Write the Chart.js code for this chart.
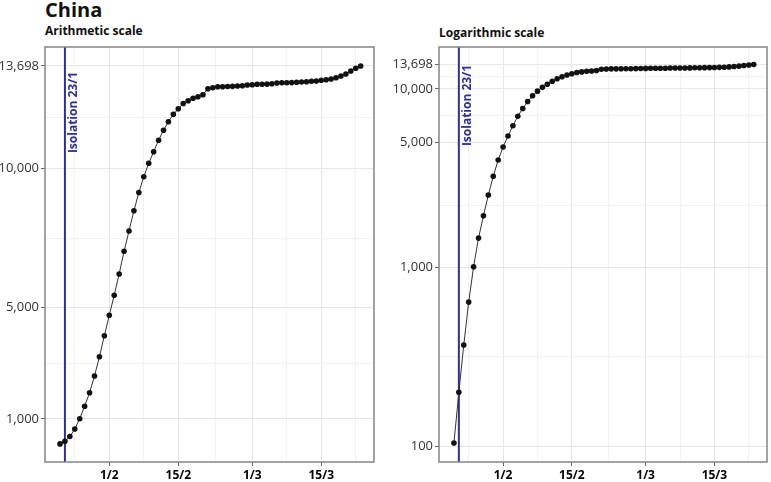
<!DOCTYPE html>
<html>
<head>
<meta charset="utf-8">
<script src="https://cdn.jsdelivr.net/npm/chart.js@4.4.1/dist/chart.umd.min.js"></script>
<style>
  body { margin: 0; background: #fff; font-family: "Open Sans", sans-serif; }
  #wrap { position: relative; width: 771px; height: 482px; overflow: hidden; }
  canvas { position: absolute; top: 0; }
  .title { position: absolute; left: 45px; top: 0; font-size: 20px; line-height: 20px; font-weight: bold; color: #111; }
  .sub { position: absolute; font-size: 12px; line-height: 12px; font-weight: bold; color: #111; }
</style>
</head>
<body>
<div id="wrap">
  <div class="title">China</div>
  <div class="sub" style="left:45px;top:25px">Arithmetic scale</div>
  <div class="sub" style="left:439px;top:27px">Logarithmic scale</div>
  <canvas id="arith" width="385" height="482" style="left:0"></canvas>
  <canvas id="log" width="386" height="482" style="left:385px"></canvas>
</div>
<script>
// cumulative cases, one value a day from 22/1 (day 0) to 23/3 (day 61)
const cases = [
  104, 200, 368, 640, 1010, 1460, 1946, 2547, 3241, 3996,
  4730, 5450, 6216, 7032, 7763, 8493, 9147, 9716, 10198, 10615,
  11029, 11388, 11694, 11960, 12158, 12349, 12450, 12536, 12594, 12665,
  12881, 12917, 12953, 12953, 12960, 12965, 12978, 12989, 13014, 13025,
  13040, 13040, 13045, 13061, 13086, 13097, 13097, 13100, 13111, 13122,
  13133, 13147, 13158, 13183, 13205, 13230, 13277, 13338, 13410, 13518,
  13615, 13698
];
const tickDays = [10, 24, 39, 53];          // days after 22/1
const tickLabels = ['1/2', '15/2', '1/3', '15/3'];
const arithTicks = [1000, 5000, 10000, 13698];
const logTicks = [100, 1000, 5000, 10000, 13698];
const isolationDay = 1;
const isolationLabel = 'Isolation 23/1';

Chart.defaults.font.family = '"Open Sans", sans-serif';

const points = cases.map((v, i) => ({ x: i, y: v }));

// ggplot style minor breaks: halfway between the major ones
function minorBetween(arr, mid) {
  const out = [];
  for (let i = 0; i < arr.length - 1; i++) out.push(mid(arr[i], arr[i + 1]));
  return out;
}
const xMinor = [tickDays[0] - (tickDays[1] - tickDays[0]) / 2]
  .concat(minorBetween(tickDays, (a, b) => (a + b) / 2))
  .concat([tickDays[3] + (tickDays[3] - tickDays[2]) / 2]);
const arithMinor = minorBetween(arithTicks, (a, b) => (a + b) / 2);
const logMinor = minorBetween(logTicks, (a, b) => Math.sqrt(a * b));

const MAJOR = '#e6e6e6', MINOR = '#f2f2f2', BLUE = '#2e3192';

const panelPlugin = {
  id: 'panel',
  beforeDatasetsDraw(chart, args, o) {
    const { ctx, chartArea: a } = chart;
    const x = chart.scales.x.getPixelForValue(isolationDay);
    ctx.save();
    ctx.strokeStyle = BLUE;
    ctx.lineWidth = 2;
    ctx.beginPath();
    ctx.moveTo(x, a.top);
    ctx.lineTo(x, a.bottom);
    ctx.stroke();
    ctx.translate(x + 9, a.top + o.labelTop);
    ctx.rotate(-Math.PI / 2);
    ctx.fillStyle = BLUE;
    ctx.font = 'bold 12px "Open Sans"';
    ctx.textAlign = 'right';
    ctx.textBaseline = 'middle';
    ctx.fillText(isolationLabel, 0, 0);
    ctx.restore();
  },
  afterDraw(chart) {
    const { ctx, chartArea: a } = chart;
    ctx.save();
    ctx.strokeStyle = '#858585';
    ctx.lineWidth = 1.5;
    ctx.strokeRect(a.left, a.top, a.right - a.left, a.bottom - a.top);
    ctx.restore();
  }
};

function makeChart(id, yScale, yMajor, yMinor, yWidth, padRight, labelTop) {
  return new Chart(document.getElementById(id), {
    type: 'line',
    data: {
      datasets: [{
        data: points,
        borderColor: '#333',
        borderWidth: 1,
        pointRadius: 2.8,
        pointBorderWidth: 0,
        pointBackgroundColor: '#111',
        tension: 0
      }]
    },
    options: {
      responsive: false,
      animation: false,
      devicePixelRatio: 1,
      layout: { padding: { top: 47, right: padRight, left: 0, bottom: 0 } },
      plugins: { legend: { display: false }, tooltip: { enabled: false }, panel: { labelTop: labelTop } },
      scales: {
        x: {
          type: 'linear',
          min: -3.04,
          max: 63.7,
          afterBuildTicks: s => { s.ticks = tickDays.concat(xMinor).sort((a, b) => a - b).map(v => ({ value: v })); },
          afterFit: s => { s.height = 20; },
          ticks: {
            autoSkip: false, maxRotation: 0, padding: 2, color: '#000',
            font: { size: 12, weight: 'bold' },
            callback: v => { const i = tickDays.indexOf(v); return i >= 0 ? tickLabels[i] : ''; }
          },
          grid: {
            color: c => tickDays.includes(c.tick.value) ? MAJOR : MINOR,
            tickColor: c => tickDays.includes(c.tick.value) ? '#666' : 'rgba(0,0,0,0)',
            tickLength: 4
          },
          border: { display: false }
        },
        y: Object.assign({
          afterBuildTicks: s => { s.ticks = yMajor.concat(yMinor).sort((a, b) => a - b).map(v => ({ value: v })); },
          afterFit: s => { s.width = yWidth; },
          ticks: {
            autoSkip: false, padding: 2, color: '#333',
            font: { size: 13 },
            callback: v => yMajor.includes(v) ? v.toLocaleString('en-US') : ''
          },
          grid: {
            color: c => yMajor.includes(c.tick.value) ? MAJOR : MINOR,
            tickColor: c => yMajor.includes(c.tick.value) ? '#666' : 'rgba(0,0,0,0)',
            tickLength: 4
          },
          border: { display: false }
        }, yScale)
      }
    },
    plugins: [panelPlugin]
  });
}

makeChart('arith', { type: 'linear', min: -547, max: 14381 }, arithTicks, arithMinor, 45, 11, 25);
makeChart('log', { type: 'logarithmic', min: 81.4, max: 17163 }, logTicks, logMinor, 54, 2, 18);
</script>
</body>
</html>
